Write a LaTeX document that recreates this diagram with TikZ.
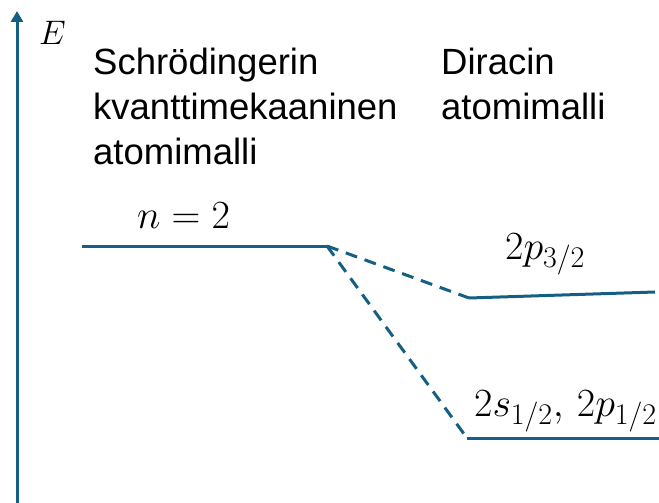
\RequirePackage{fix-cm}
\documentclass[tikz,border=0pt]{standalone}
\usepackage{fontspec}
\setmainfont{Liberation Sans}
\usetikzlibrary{arrows.meta}
\definecolor{lvl}{RGB}{21,96,130}
\DeclareMathSizes{40}{40}{30}{24}
\begin{document}
\begin{tikzpicture}[x=1pt,y=-1pt,
  lvlline/.style={draw=lvl,line width=3pt},
  dashline/.style={lvlline,dash pattern=on 12pt off 8pt},
  lbl/.style={inner sep=0pt,anchor=base west,font=\fontsize{36.5}{42}\selectfont},
  mlbl/.style={inner sep=0pt,anchor=base west,font=\fontsize{40}{46}\selectfont}]
\useasboundingbox (0,0) rectangle (659,503);
% axis
\coordinate (ax0) at (17,503);
\coordinate (ax1) at (17,11);
\draw[lvlline,-{Triangle[width=12pt,length=11pt]}] (ax0) -- (ax1);
\node[inner sep=0pt,anchor=base west,font=\fontsize{34}{40}\selectfont] (E) at (39,45) {$E$};
% headings
\node[lbl] (s1) at (93,75) {Schrödingerin};
\node[lbl] (s2) at (93,120) {kvanttimekaaninen};
\node[lbl] (s3) at (93,164) {atomimalli};
\node[lbl] (d1) at (441,75) {Diracin};
\node[lbl] (d2) at (441,120) {atomimalli};
% levels
\coordinate (n2a) at (82,246);
\coordinate (n2b) at (327,246);
\coordinate (p32a) at (469,298);
\coordinate (p32b) at (655,292);
\coordinate (s12a) at (467,438);
\coordinate (s12b) at (659,438);
\draw[lvlline] (n2a) -- (n2b);
\draw[lvlline] (p32a) -- (p32b);
\draw[lvlline] (s12a) -- (s12b);
\draw[dashline] (n2b) -- (p32a);
\draw[dashline] (n2b) -- (s12a);
% level labels
\node[mlbl] (ln2) at (137,228) {$n=2$};
\node[mlbl] (lp32) at (505,259) {$2p_{3/2}$};
\node[mlbl] (ls12) at (474,416) {$2s_{1/2},\,2p_{1/2}$};
\end{tikzpicture}
\end{document}
